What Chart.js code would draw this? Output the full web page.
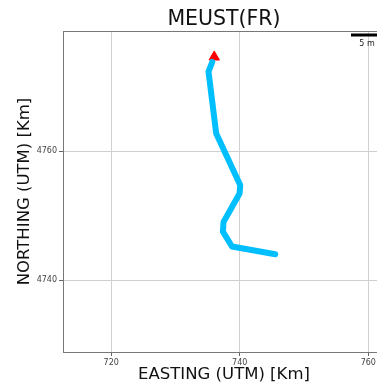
<!DOCTYPE html>
<html>
<head>
<meta charset="utf-8">
<script src="https://cdn.jsdelivr.net/npm/chart.js@4.4.1/dist/chart.umd.min.js"></script>
<style>
  html, body { margin: 0; padding: 0; background: #fff; overflow: hidden; }
  canvas { display: block; }
</style>
</head>
<body>
<canvas id="chart" width="392" height="385" style="width:392px;height:385px"></canvas>
<script>
// track (UTM, km)
const eastings  = [735.72, 735.14, 736.34, 740.08, 739.97, 737.48, 737.38, 738.79, 745.52];
const northings = [4773.8, 4772.3, 4762.7, 4754.7, 4753.4, 4749.0, 4747.5, 4745.2, 4744.0];
// start marker
const startE = [736.03];
const startN = [4774.57];

const xTicks = [720, 740, 760];
const yTicks = [4740, 4760];

const chartTitle = 'MEUST(FR)';
const scaleLabel = '5 m';

const fontFam = '"DejaVu Sans", sans-serif';

const track = eastings.map((e, i) => ({ x: e, y: northings[i] }));
const start = startE.map((e, i) => ({ x: e, y: startN[i] }));

const extras = {
  id: 'extras',
  afterDraw(chart) {
    const { ctx, chartArea: a } = chart;
    const right = Math.min(a.right, 385);
    ctx.save();
    // top spine
    ctx.strokeStyle = '#777';
    ctx.lineWidth = 1;
    ctx.beginPath();
    ctx.moveTo(a.left, a.top + 0.5);
    ctx.lineTo(a.right, a.top + 0.5);
    ctx.stroke();
    // title
    ctx.fillStyle = '#111';
    ctx.font = '20.5px ' + fontFam;
    ctx.textAlign = 'center';
    ctx.textBaseline = 'alphabetic';
    ctx.fillText(chartTitle, (a.left + a.right) / 2, a.top - 6);
    // scale bar
    ctx.strokeStyle = '#000';
    ctx.lineWidth = 3;
    ctx.beginPath();
    ctx.moveTo(right - 34, a.top + 4);
    ctx.lineTo(right, a.top + 4);
    ctx.stroke();
    ctx.fillStyle = '#222';
    ctx.font = '8px ' + fontFam;
    ctx.textBaseline = 'middle';
    ctx.fillText(scaleLabel, right - 18, a.top + 13);
    ctx.restore();
  }
};

new Chart(document.getElementById('chart'), {
  type: 'line',
  data: {
    datasets: [
      {
        data: track,
        borderColor: 'rgb(0,191,255)',
        borderWidth: 6,
        borderJoinStyle: 'round',
        borderCapStyle: 'round',
        pointRadius: 0,
        fill: false,
        tension: 0
      },
      {
        data: start,
        showLine: false,
        pointStyle: 'triangle',
        pointRadius: 6,
        pointBackgroundColor: '#ff0000',
        pointBorderColor: '#ff0000',
        pointBorderWidth: 1
      }
    ]
  },
  options: {
    responsive: false,
    animation: false,
    layout: { padding: { top: 31, right: 1, left: 0, bottom: 0 } },
    plugins: { legend: { display: false }, tooltip: { enabled: false } },
    scales: {
      x: {
        type: 'linear',
        min: 712.5,
        max: 762.6,
        afterBuildTicks: s => { s.ticks = xTicks.map(v => ({ value: v })); },
        afterFit: s => { s.height = 33; s.paddingLeft = 0; s.paddingRight = 0; },
        grid: { color: '#d0d0d0', tickColor: '#666', tickLength: 4 },
        border: { color: '#777', width: 1 },
        ticks: { color: '#444', font: { family: fontFam, size: 8 }, padding: 2, maxRotation: 0,
                 callback: v => String(v) },
        title: {
          display: true,
          text: 'EASTING (UTM) [Km]',
          color: '#111',
          font: { family: fontFam, size: 16.5 },
          padding: { top: 0, bottom: 0 }
        }
      },
      y: {
        type: 'linear',
        min: 4728.85,
        max: 4778.6,
        afterBuildTicks: s => { s.ticks = yTicks.map(v => ({ value: v })); },
        afterFit: s => { s.width = 63; s.paddingTop = 0; s.paddingBottom = 0; },
        grid: { color: '#d0d0d0', tickColor: '#666', tickLength: 4 },
        border: { color: '#777', width: 1 },
        ticks: { color: '#444', font: { family: fontFam, size: 8 }, padding: 2,
                 callback: v => String(v) },
        title: {
          display: true,
          text: 'NORTHING (UTM) [Km]',
          color: '#111',
          font: { family: fontFam, size: 16.5 },
          padding: { top: 15, bottom: 0 }
        }
      }
    }
  },
  plugins: [extras]
});
</script>
</body>
</html>
